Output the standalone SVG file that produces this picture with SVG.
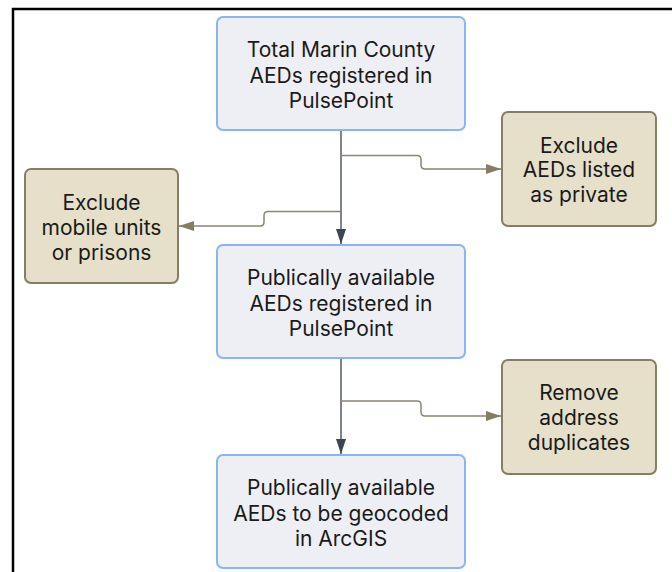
<svg xmlns="http://www.w3.org/2000/svg" width="672" height="572" viewBox="0 0 672 572">
<defs>
<style>
.blue rect{fill:#eeeff4;stroke:#8ab4f8;stroke-width:2}
.tan rect{fill:#e6e0ca;stroke:#867d64;stroke-width:2}
text{font-family:Inter,"Noto Sans","Liberation Sans",sans-serif;font-size:21px;fill:#1a1a1a;text-anchor:middle}
.main{fill:none;stroke:#555c66;stroke-width:1.5}
.side{fill:none;stroke:#8c8470;stroke-width:1.5}
</style>
<marker id="ah-main" viewBox="0 0 15 10" refX="15" refY="5" markerWidth="15" markerHeight="10" markerUnits="userSpaceOnUse" orient="auto"><path d="M0,0 L15,5 L0,10 z" fill="#3c4450"/></marker>
<marker id="ah-side" viewBox="0 0 15 10" refX="15" refY="5" markerWidth="15" markerHeight="10" markerUnits="userSpaceOnUse" orient="auto"><path d="M0,0 L15,5 L0,10 z" fill="#857c63"/></marker>
</defs>
<rect x="0" y="0" width="672" height="572" fill="#ffffff"/>
<path d="M13,572 V9 H672" fill="none" stroke="#000000" stroke-width="2.5"/>
<g id="connectors">
<path class="main" d="M341,131 V244" marker-end="url(#ah-main)"/>
<path class="main" d="M341,359 V454" marker-end="url(#ah-main)"/>
<path class="side" d="M341,155.5 H417 Q421,155.5 421,159.5 V165 Q421,169 425,169 H501" marker-end="url(#ah-side)"/>
<path class="side" d="M341,211.5 H268 Q264,211.5 264,215.5 V222 Q264,226 260,226 H179" marker-end="url(#ah-side)"/>
<path class="side" d="M341,401 H417 Q421,401 421,405 V412 Q421,416 425,416 H501" marker-end="url(#ah-side)"/>
</g>
<g id="n1" class="blue"><rect x="217" y="17" width="248" height="113" rx="6"/><text x="341" y="57">Total Marin County</text><text x="341" y="83">AEDs registered in</text><text x="341" y="108">PulsePoint</text></g>
<g id="n2" class="blue"><rect x="217" y="245" width="248" height="113" rx="6"/><text x="341" y="285">Publically available</text><text x="341" y="311">AEDs registered in</text><text x="341" y="336">PulsePoint</text></g>
<g id="n3" class="blue"><rect x="217" y="455" width="248" height="113" rx="6"/><text x="341" y="495">Publically available</text><text x="341" y="521">AEDs to be geocoded</text><text x="341" y="546">in ArcGIS</text></g>
<g id="t1" class="tan"><rect x="502" y="112" width="154" height="114" rx="6"/><text x="579" y="153">Exclude</text><text x="579" y="177">AEDs listed</text><text x="579" y="202">as private</text></g>
<g id="t2" class="tan"><rect x="25" y="169" width="153" height="114" rx="6"/><text x="101.5" y="210">Exclude</text><text x="101.5" y="235">mobile units</text><text x="101.5" y="260">or prisons</text></g>
<g id="t3" class="tan"><rect x="502" y="360" width="154" height="114" rx="6"/><text x="579" y="400">Remove</text><text x="579" y="425">address</text><text x="579" y="450">duplicates</text></g>
</svg>
